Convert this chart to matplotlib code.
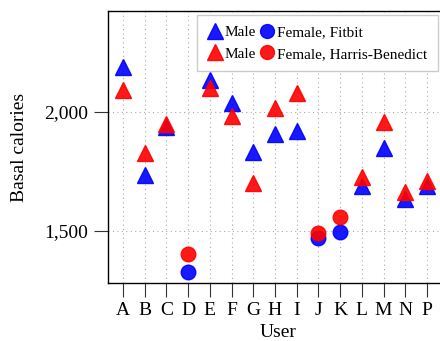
import matplotlib
matplotlib.use("Agg")
import matplotlib.pyplot as plt
import numpy as np
from matplotlib.ticker import FuncFormatter
from matplotlib.lines import Line2D

users = ["A", "B", "C", "D", "E", "F", "G", "H", "I", "J", "K", "L", "M", "N", "P"]
is_female = [False, False, False, True, False, False, False, False, False, True, True, False, False, False, False]
fitbit = [2190, 1735, 1937, 1326, 2134, 2036, 1833, 1906, 1920, 1469, 1497, 1689, 1847, 1634, 1689]
harris_benedict = [2092, 1829, 1948, 1402, 2102, 1983, 1703, 2015, 2081, 1490, 1557, 1726, 1959, 1663, 1710]

plt.rcParams['font.family'] = ['Liberation Serif', 'DejaVu Serif']
plt.rcParams['font.size'] = 14

fig = plt.figure(figsize=(4.4, 3.41), dpi=100)
ax = fig.add_axes([108/440, 1-283/341, 340/440, 272/341])

x = np.arange(len(users))
fem = np.array(is_female)
fb = np.array(fitbit)
hb = np.array(harris_benedict)

ms_tri = 12
ms_circ = 10.5
blue = (0.0, 0.0, 1.0)
red = (1.0, 0.0, 0.0)

ax.plot(x[~fem], fb[~fem], linestyle='none', marker='^', ms=ms_tri, color=blue, alpha=0.9, mec=blue, zorder=3)
ax.plot(x[fem], fb[fem], linestyle='none', marker='o', ms=ms_circ, color=blue, alpha=0.9, mec=blue, zorder=3)
ax.plot(x[~fem], hb[~fem], linestyle='none', marker='^', ms=ms_tri, color=red, alpha=0.9, mec=red, zorder=4)
ax.plot(x[fem], hb[fem], linestyle='none', marker='o', ms=ms_circ, color=red, alpha=0.9, mec=red, zorder=4)

ax.set_xlim(-0.69, 14.6 + 8/21.7)
ax.set_ylim(1281, 2424)
ax.set_xticks(x)
ax.set_xticklabels(users)
ax.set_yticks([1500, 2000])
ax.yaxis.set_major_formatter(FuncFormatter(lambda v, p: f"{int(v):,}"))
ax.tick_params(direction='out', length=10, width=0.8, color='#333333', pad=4)
ax.spines['right'].set_visible(False)
for s in ['left', 'bottom', 'top']:
    ax.spines[s].set_linewidth(1.0)
ax.grid(True, linestyle=(0, (1, 3)), color='#aaaaaa', linewidth=0.8, zorder=0)
ax.set_axisbelow(True)

ax.set_xlabel("User", labelpad=3)
ax.set_ylabel("Basal calories", labelpad=12)

h = [
    Line2D([], [], linestyle='none', marker='^', ms=11.5, color=blue, alpha=0.9),
    Line2D([], [], linestyle='none', marker='^', ms=11.5, color=red, alpha=0.9),
    Line2D([], [], linestyle='none', marker='o', ms=10, color=blue, alpha=0.9),
    Line2D([], [], linestyle='none', marker='o', ms=10, color=red, alpha=0.9),
]
labels = ["Male", "Male", "Female, Fitbit", "Female, Harris-Benedict"]
leg = ax.legend(h, labels, ncol=2, loc='upper left', bbox_to_anchor=((197-108)/340, 1-4/272),
                fontsize=11, handlelength=0.9, handletextpad=0.2, columnspacing=0.3,
                labelspacing=0.5, borderpad=0.7, borderaxespad=0, fancybox=False, framealpha=1,
                edgecolor='#cccccc')
leg.get_frame().set_linewidth(1.0)

fig.savefig("out.png", dpi=100)
